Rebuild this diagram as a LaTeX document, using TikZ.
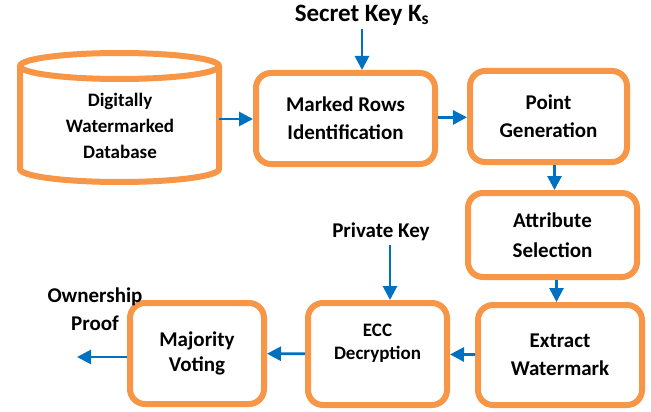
\documentclass[tikz,border=0pt]{standalone}
\usepackage{fontspec}
\setmainfont{Carlito}
\usetikzlibrary{arrows.meta}
\definecolor{boxorange}{RGB}{247,150,70}
\definecolor{arrowblue}{RGB}{0,112,192}
\begin{document}
\begin{tikzpicture}[x=1pt,y=-1pt,
    stage/.style={draw=boxorange, line width=6pt, rounded corners=15pt, align=center,
      font=\fontsize{21}{28}\selectfont\bfseries},
    flow/.style={draw=arrowblue, line width=2.8pt, -{Triangle[length=14pt,width=14pt]}},
    tag/.style={align=center, font=\fontsize{21}{28}\selectfont\bfseries}]
  \useasboundingbox (0,0) rectangle (651,412);

  % database drum
  \draw[boxorange, line width=6pt] (20,66) -- (20,169)
    arc[start angle=180, end angle=360, x radius=99.5pt, y radius=13pt] -- (219,66);
  \draw[boxorange, line width=6pt] (119.5,66) ellipse[x radius=99.5pt, y radius=13pt];
  \node[align=center, font=\fontsize{19}{26}\selectfont\bfseries] (db) at (120,126)
    {Digitally\\Watermarked\\Database};
  \coordinate (dbside) at (219,119);

  % stages
  \node[stage, minimum width=179pt, minimum height=91pt] (mark) at (345.5,118.5) {Marked Rows\\Identification};
  \node[stage, minimum width=157pt, minimum height=91pt] (point) at (548.5,116.5) {Point\\Generation};
  \node[stage, minimum width=169pt, minimum height=84pt, font=\fontsize{21}{30}\selectfont\bfseries] (attr) at (552.5,235) {Attribute\\Selection};
  \node[stage, minimum width=164pt, minimum height=100pt] (extract) at (560,355) {Extract\\Watermark};
  \node[stage, minimum width=139pt, minimum height=102pt, text depth=25pt,
    font=\fontsize{19}{23}\selectfont\bfseries] (ecc) at (377.5,354) {ECC\\Decryption};
  \node[stage, minimum width=134pt, minimum height=101pt, font=\fontsize{21}{25}\selectfont\bfseries] (vote) at (197,353.5) {Majority\\Voting};

  % keys and result
  \node[tag, font=\fontsize{25}{30}\selectfont\bfseries] (secret) at (362,15) {Secret Key K\textsubscript{s}};
  \node[tag] (private) at (381,232) {Private Key};
  \node[tag] (owner) at (95,309) {Ownership\\Proof};
  \coordinate (out) at (77,357);

  \draw[flow] (dbside) -- (dbside -| mark.west);
  \draw[flow] (secret.south) -- (secret.south |- mark.north);
  \draw[flow] (mark) -- (point);
  \draw[flow] ([xshift=6pt]point.south) -- ([xshift=6pt]point.south |- attr.north);
  \draw[flow] ([xshift=4pt]attr.south) -- ([xshift=4pt]attr.south |- extract.north);
  \draw[flow] (extract) -- (ecc);
  \draw[flow] ([xshift=9pt]private.south) -- ([xshift=9pt]private.south |- ecc.north);
  \draw[flow] (ecc) -- (vote);
  \draw[flow] (vote.west |- out) -- (out);
\end{tikzpicture}
\end{document}
